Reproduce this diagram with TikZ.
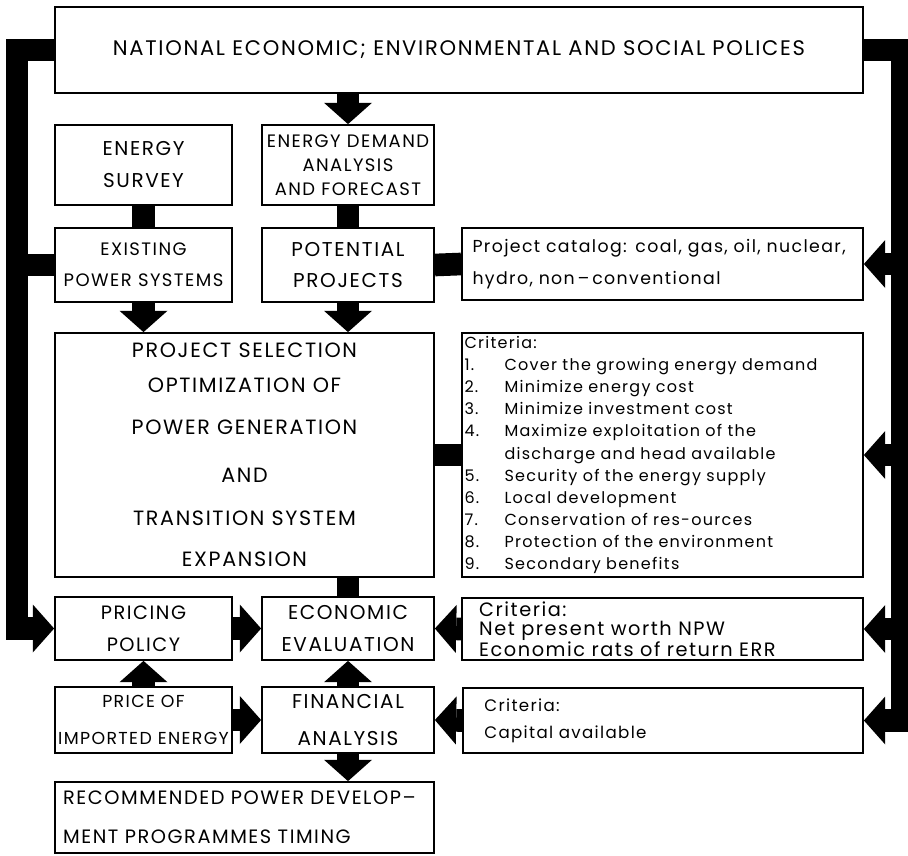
\documentclass[tikz,border=0pt]{standalone}
\usepackage{fontspec}
\setmainfont{Poppins}[LetterSpace=8]
\usetikzlibrary{arrows.meta}
\tikzset{
  polbox/.style={draw,line width=1.3pt,inner sep=0pt,align=center},
  sz/.style 2 args={minimum width=#1*0.75pt,minimum height=#2*0.75pt},
  fatbar/.style={line width=17pt},
  fatarr/.style={fatbar,-{Triangle[length=16pt,width=36pt,line width=0pt]}}
}
\newcommand{\capsz}[2]{\fontsize{#1}{#2}\selectfont}
\newcommand{\critno}[1]{\makebox[30pt][l]{#1}}

\begin{document}
\begin{tikzpicture}[x=0.75pt,y=-0.75pt]
\useasboundingbox (0,0) rectangle (908,856);
% boxes
\node[polbox,sz={808}{86},font=\capsz{15.8}{20}] (top) at (459,50)
  {NATIONAL ECONOMIC; ENVIRONMENTAL AND SOCIAL POLICES};
\node[polbox,sz={177}{80},font=\capsz{15}{24}] (survey) at (143.5,165) {ENERGY\\SURVEY};
\node[polbox,sz={172}{80},font=\capsz{13.5}{18}] (demand) at (348,165)
  {ENERGY DEMAND\\ANALYSIS\\AND FORECAST};
\node[polbox,sz={177}{74},font=\capsz{13.5}{23}] (exist) at (143.5,265) {EXISTING\\POWER SYSTEMS};
\node[polbox,sz={172}{74},font=\capsz{15}{23}] (potent) at (348,265) {POTENTIAL\\PROJECTS};
\node[polbox,sz={401}{72},font=\capsz{13}{24},align=left,text width=285pt] (catalog) at (662.5,264)
  {Project catalog: coal, gas, oil, nuclear,\\hydro, non\,--\,conventional};
\node[polbox,sz={379}{244},font=\capsz{15.5}{31}] (select) at (244.5,455)
  {PROJECT SELECTION\\[-4.75pt]OPTIMIZATION OF\\POWER GENERATION\\[5.5pt]AND\\[1pt]TRANSITION SYSTEM\\EXPANSION};
\node[polbox,sz={401}{244},font=\capsz{12}{16.6},align=left,text width=297pt] (criteria) at (662.5,455)
  {Criteria:\\
   \critno{1.}Cover the growing energy demand\\
   \critno{2.}Minimize energy cost\\
   \critno{3.}Minimize investment cost\\
   \critno{4.}Maximize exploitation of the\\
   \critno{}discharge and head available\\
   \critno{5.}Security of the energy supply\\
   \critno{6.}Local development\\
   \critno{7.}Conservation of res-ources\\
   \critno{8.}Protection of the environment\\
   \critno{9.}Secondary benefits};
\node[polbox,sz={177}{63},font=\capsz{14.5}{24}] (pricing) at (143.5,628.5) {PRICING\\POLICY};
\node[polbox,sz={172}{63},font=\capsz{15}{24}] (econ) at (348,628.5) {ECONOMIC\\EVALUATION};
\node[polbox,sz={401}{62},font=\capsz{14.5}{14.25},align=left,text width=275pt] (critecon) at (662.5,629)
  {Criteria:\\Net present worth NPW\\Economic rats of return ERR};
\node[polbox,sz={177}{66},font=\capsz{13}{28}] (price) at (143.5,720) {PRICE OF\\IMPORTED ENERGY};
\node[polbox,sz={172}{66},font=\capsz{15}{28}] (finan) at (348,720) {FINANCIAL\\ANALYSIS};
\node[polbox,sz={400}{65},font=\capsz{12.5}{20},align=left,text width=268pt] (critcap) at (663,720.5)
  {Criteria:\\Capital available};
\node[polbox,sz={379}{71},font=\capsz{14.5}{29},align=left,text width=272pt] (recomm) at (244.5,817.5)
  {RECOMMENDED POWER DEVELOP--\\MENT PROGRAMMES TIMING};
% policy feed lines
\draw[fatarr] (top.west) -- ++(-37,0) |- (pricing.west);
\draw[fatbar] (exist.west) -- ++(-37,0);
\draw[fatarr] (top.east) -- ++(38,0) coordinate (rb) |- (critcap.east);
\foreach \n in {catalog,criteria,critecon}
  \draw[fatarr] (rb |- \n.east) -- (\n.east);
% main flow
\draw[fatarr] (top.south -| demand.north) -- (demand.north);
\draw[fatbar] (survey.south) -- (exist.north);
\draw[fatbar] (demand.south) -- (potent.north);
\draw[fatbar] (potent.east) -- (catalog.west);
\draw[fatarr] (exist.south) -- (exist.south |- select.north);
\draw[fatarr] (potent.south) -- (potent.south |- select.north);
\draw[fatbar] (select.east) -- (select.east -| criteria.west);
\draw[fatbar] (econ.north |- select.south) -- (econ.north);
\draw[fatarr] (pricing.east) -- (econ.west);
\draw[fatarr] (critecon.west) -- (econ.east);
\draw[fatarr] (price.north) -- (pricing.south);
\draw[fatarr] (price.east) -- (finan.west);
\draw[fatarr] (finan.north) -- (econ.south);
\draw[fatarr] (critcap.west) -- (finan.east);
\draw[fatarr] (finan.south) -- (finan.south |- recomm.north);
\end{tikzpicture}
\end{document}
